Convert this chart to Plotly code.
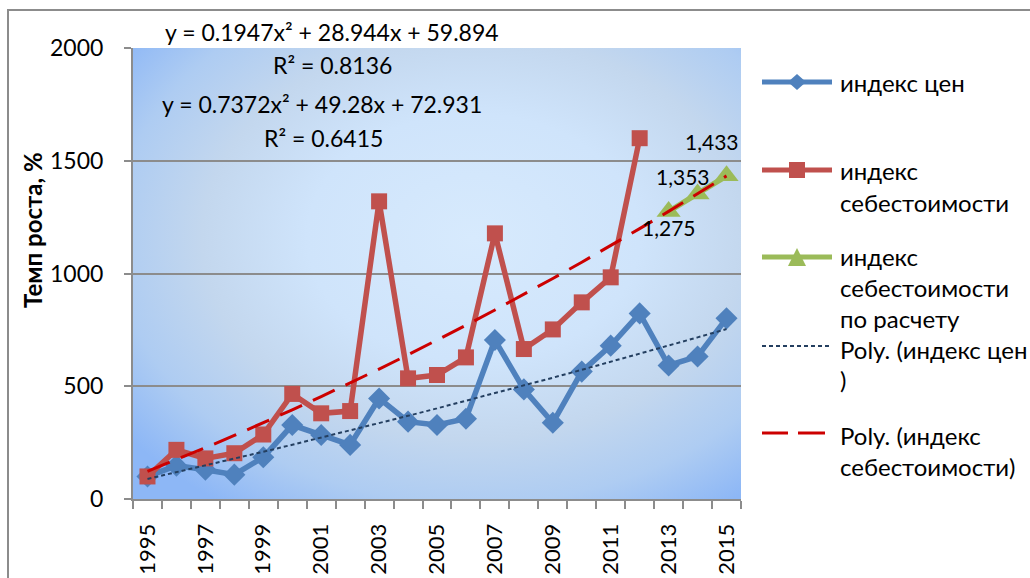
import base64
import plotly.graph_objects as go

# ---------------- data ----------------
years = list(range(1995, 2016))
price_index = [100, 148, 130, 108, 185, 328, 284, 240, 446, 343, 328, 356,
               705, 486, 338, 565, 680, 823, 592, 632, 801]
cost_years = list(range(1995, 2013))
cost_index = [100, 218, 180, 203, 286, 466, 380, 390, 1320, 535, 550, 628,
              1178, 665, 752, 872, 983, 1600]
forecast_years = [2013, 2014, 2015]
forecast_cost = [1275, 1353, 1433]
forecast_labels = ["1,275", "1,353", "1,433"]
# printed trendline coefficients (a, b, c) of y = a*x^2 + b*x + c, x = 1..N
price_trend_coef = [0.1947, 28.944, 59.894]
cost_trend_coef = [0.7372, 49.28, 72.931]
eq_texts = ["y = 0.1947x² + 28.944x + 59.894", "R² = 0.8136",
            "y = 0.7372x² + 49.28x + 72.931", "R² = 0.6415"]
y_ticks = [0, 500, 1000, 1500, 2000]
x_label_years = years[::2]

# ---------------- geometry helpers ----------------
W, H = 1030, 578
L, R, T, B = 133, 741, 48, 499


def px(xp):
    return (xp - L) / (R - L)


def py(yp):
    return (B - yp) / (B - T)


FONT = "Lato, 'Noto Sans', sans-serif"
BLUE, RED, GREEN = "#4F81BD", "#C0504D", "#9BBB59"
NAVY, DRED = "#243F60", "#CC0000"
GRAY = "#8C8C8C"

trend_x_idx = list(range(1, len(years) + 1))
price_trend = [price_trend_coef[0] * k * k + price_trend_coef[1] * k + price_trend_coef[2] for k in trend_x_idx]
cost_trend = [cost_trend_coef[0] * k * k + cost_trend_coef[1] * k + cost_trend_coef[2] for k in trend_x_idx]

fig = go.Figure()
fig.add_trace(go.Scatter(x=years, y=price_index, mode="lines+markers",
                         line=dict(color=BLUE, width=5.5),
                         marker=dict(symbol="diamond", size=17, color=BLUE),
                         name="индекс цен", showlegend=False))
fig.add_trace(go.Scatter(x=cost_years, y=cost_index, mode="lines+markers",
                         line=dict(color=RED, width=5.5),
                         marker=dict(symbol="square", size=16, color=RED),
                         name="индекс себестоимости", showlegend=False))
fig.add_trace(go.Scatter(x=forecast_years, y=forecast_cost, mode="lines+markers",
                         line=dict(color=GREEN, width=5.5),
                         marker=dict(symbol="triangle-up", size=21, color=GREEN),
                         name="индекс себестоимости по расчету", showlegend=False))
fig.add_trace(go.Scatter(x=years, y=price_trend, mode="lines",
                         line=dict(color=NAVY, width=2, dash="4px,3px"),
                         name="Poly. (индекс цен)", showlegend=False))
fig.add_trace(go.Scatter(x=years, y=cost_trend, mode="lines",
                         line=dict(color=DRED, width=3, dash="24px,12px"),
                         name="Poly. (индекс себестоимости)", showlegend=False))

# gradient background via inline SVG
svg = ("<svg xmlns='http://www.w3.org/2000/svg' width='608' height='451' preserveAspectRatio='none'>"
       "<defs><radialGradient id='g' cx='0.56' cy='0.42' r='0.72'>"
       "<stop offset='0' stop-color='#D7EAFD'/>"
       "<stop offset='0.38' stop-color='#CFE4FB'/>"
       "<stop offset='0.62' stop-color='#C3D7EE'/>"
       "<stop offset='0.82' stop-color='#AECCF2'/>"
       "<stop offset='1' stop-color='#8DB7F6'/>"
       "</radialGradient></defs>"
       "<rect x='0' y='0' width='608' height='451' fill='url(#g)'/></svg>")
src = "data:image/svg+xml;base64," + base64.b64encode(svg.encode()).decode()
fig.add_layout_image(dict(source=src, xref="paper", yref="paper", x=0, y=1,
                          sizex=1, sizey=1, sizing="stretch", xanchor="left",
                          yanchor="top", layer="below"))

shapes = []
annotations = []
# chart border
shapes.append(dict(type="rect", xref="paper", yref="paper",
                   x0=px(8), y0=py(600), x1=px(1045), y1=py(10),
                   line=dict(color=GRAY, width=2), fillcolor="rgba(0,0,0,0)"))

# equations
eq_pos = [(332, 32), (332, 65), (322, 104), (323, 138)]
for t, (ex, ey) in zip(eq_texts, eq_pos):
    annotations.append(dict(text=t, xref="paper", yref="paper", x=px(ex), y=py(ey),
                            xanchor="center", yanchor="middle", showarrow=False,
                            font=dict(family=FONT, size=23, color="black")))

# y-axis title
annotations.append(dict(text="<b>Темп роста, %</b>", xref="paper", yref="paper",
                        x=px(32), y=py(230), textangle=-90, showarrow=False,
                        xanchor="center", yanchor="middle",
                        font=dict(family=FONT, size=24, color="black")))

# data labels of forecast
label_shift = [(0, -16), (-15, 17), (-15, 34)]
for xv, yv, t, (dx, dy) in zip(forecast_years, forecast_cost, forecast_labels, label_shift):
    annotations.append(dict(text=t, x=xv, y=yv, xref="x", yref="y", showarrow=False,
                            xshift=dx, yshift=dy, xanchor="center", yanchor="middle",
                            font=dict(family=FONT, size=21, color="black")))

# manual legend
LX0, LX1, LXC, TX = 762, 832, 797, 838
legend_items = [
    dict(y=82, color=BLUE, width=5, dash="solid", marker="diamond",
         lines=[("индекс цен", 82)]),
    dict(y=170, color=RED, width=5, dash="solid", marker="square",
         lines=[("индекс", 170), ("себестоимости", 202)]),
    dict(y=257, color=GREEN, width=5, dash="solid", marker="triangle",
         lines=[("индекс", 256), ("себестоимости", 287), ("по расчету", 318)]),
    dict(y=346, color=NAVY, width=2, dash="dot", marker=None,
         lines=[("Poly. (индекс цен", 349), (")", 379)]),
    dict(y=433, color=DRED, width=3, dash="dash", marker=None,
         lines=[("Poly. (индекс", 435), ("себестоимости)", 466)]),
]
for it in legend_items:
    yy = py(it["y"])
    if it["dash"] == "dash":
        for a, b in [(762, 788), (798, 825)]:
            shapes.append(dict(type="line", xref="paper", yref="paper", x0=px(a), x1=px(b),
                               y0=yy, y1=yy, line=dict(color=it["color"], width=it["width"])))
    else:
        shapes.append(dict(type="line", xref="paper", yref="paper", x0=px(LX0), x1=px(LX1),
                           y0=yy, y1=yy,
                           line=dict(color=it["color"], width=it["width"],
                                     dash="4px,3px" if it["dash"] == "dot" else "solid")))
    c = it["y"]
    if it["marker"] == "diamond":
        path = "M {} {} L {} {} L {} {} L {} {} Z".format(px(LXC - 9), py(c), px(LXC), py(c - 8),
                                                          px(LXC + 9), py(c), px(LXC), py(c + 8))
        shapes.append(dict(type="path", xref="paper", yref="paper", path=path,
                           fillcolor=it["color"], line=dict(width=0)))
    elif it["marker"] == "square":
        shapes.append(dict(type="rect", xref="paper", yref="paper", x0=px(LXC - 8), x1=px(LXC + 8),
                           y0=py(c + 8), y1=py(c - 8), fillcolor=it["color"], line=dict(width=0)))
    elif it["marker"] == "triangle":
        path = "M {} {} L {} {} L {} {} Z".format(px(LXC - 9), py(c + 9), px(LXC), py(c - 9),
                                                  px(LXC + 9), py(c + 9))
        shapes.append(dict(type="path", xref="paper", yref="paper", path=path,
                           fillcolor=it["color"], line=dict(width=0)))
    for t, ty in it["lines"]:
        annotations.append(dict(text=t, xref="paper", yref="paper", x=px(TX), y=py(ty),
                                xanchor="left", yanchor="middle", showarrow=False,
                                font=dict(family=FONT, size=24, color="black")))

fig.update_layout(
    width=W, height=H,
    margin=dict(l=L, r=W - R, t=T, b=H - B, pad=0, autoexpand=False),
    paper_bgcolor="white", plot_bgcolor="rgba(0,0,0,0)",
    showlegend=False,
    shapes=shapes, annotations=annotations,
    font=dict(family=FONT, color="black"),
)
fig.update_xaxes(
    range=[1994.5, 2015.5], tickmode="array", tickvals=x_label_years,
    ticktext=[str(v) for v in x_label_years], tickangle=-90,
    ticks="", showgrid=False, zeroline=False, automargin=False,
    showline=True, linecolor=GRAY, linewidth=2,
    tickfont=dict(family=FONT, size=22, color="black"),
    ticklabelstandoff=14,
    minor=dict(tickmode="array", tickvals=[v - 0.5 for v in years] + [years[-1] + 0.5],
               ticks="outside", ticklen=8, tickcolor=GRAY, tickwidth=2, showgrid=False),
)
fig.update_yaxes(
    range=[0, 2000], tickmode="array", tickvals=y_ticks,
    ticks="outside", ticklen=7, tickcolor=GRAY, tickwidth=2,
    showgrid=True, gridcolor=GRAY, gridwidth=2, zeroline=False, automargin=False,
    showline=True, linecolor=GRAY, linewidth=2,
    tickfont=dict(family=FONT, size=23, color="black"),
    ticklabelstandoff=16,
)

fig.write_html("out.html", config={"displayModeBar": False},
               post_script="document.body.style.margin='0px';")
